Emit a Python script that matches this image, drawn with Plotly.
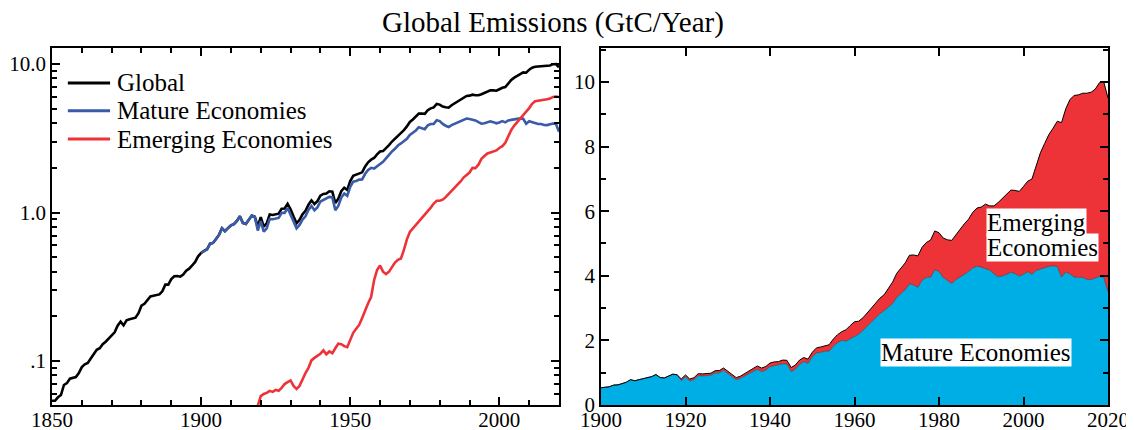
import plotly.graph_objects as go

# Years
years = list(range(1850, 2021))
years_emerging = list(range(1919, 2021))

# Global emissions (GtC/yr), 1850-2020
global_emissions = [
    0.054, 0.054, 0.057, 0.059, 0.069, 0.071, 0.076, 0.077, 0.078, 0.083,
    0.091, 0.095, 0.097, 0.104, 0.112, 0.119, 0.122, 0.130, 0.135, 0.142,
    0.147, 0.156, 0.173, 0.184, 0.174, 0.188, 0.191, 0.194, 0.196, 0.210,
    0.236, 0.243, 0.256, 0.272, 0.275, 0.277, 0.281, 0.295, 0.327, 0.327,
    0.356, 0.372, 0.374, 0.370, 0.383, 0.406, 0.419, 0.440, 0.465, 0.507,
    0.534, 0.552, 0.566, 0.617, 0.624, 0.663, 0.707, 0.784, 0.750, 0.785,
    0.819, 0.836, 0.879, 0.943, 0.850, 0.838, 0.901, 0.955, 0.936, 0.806,
    0.932, 0.803, 0.845, 0.970, 0.963, 0.975, 0.983, 1.062, 1.065, 1.145,
    1.053, 0.940, 0.847, 0.893, 0.973, 1.027, 1.130, 1.209, 1.142, 1.192,
    1.299, 1.334, 1.342, 1.391, 1.383, 1.160, 1.238, 1.392, 1.469, 1.419,
    1.630, 1.768, 1.796, 1.841, 1.865, 2.043, 2.178, 2.270, 2.330, 2.462,
    2.577, 2.594, 2.700, 2.848, 3.008, 3.145, 3.305, 3.411, 3.588, 3.800,
    4.076, 4.231, 4.399, 4.635, 4.644, 4.615, 4.883, 5.029, 5.105, 5.387,
    5.332, 5.168, 5.113, 5.094, 5.280, 5.439, 5.607, 5.752, 5.965, 6.097,
    6.127, 6.217, 6.164, 6.162, 6.266, 6.398, 6.542, 6.651, 6.643, 6.610,
    6.765, 6.927, 6.996, 7.416, 7.807, 8.093, 8.370, 8.566, 8.783, 8.740,
    9.167, 9.458, 9.580, 9.600, 9.650, 9.650, 9.680, 9.780, 9.980, 10.00,
    9.500,
]

# Emerging economies emissions (GtC/yr), 1919-2020
emerging_emissions = [
    0.050,
    0.058, 0.060, 0.061, 0.063, 0.062, 0.064, 0.063, 0.066, 0.070, 0.072,
    0.074, 0.068, 0.065, 0.068, 0.076, 0.083, 0.090, 0.101, 0.105, 0.108,
    0.112, 0.118, 0.111, 0.116, 0.113, 0.122, 0.131, 0.130, 0.126, 0.124,
    0.138, 0.155, 0.165, 0.175, 0.195, 0.220, 0.245, 0.270, 0.350, 0.410,
    0.440, 0.400, 0.385, 0.400, 0.430, 0.460, 0.480, 0.490, 0.560, 0.660,
    0.740, 0.780, 0.830, 0.880, 0.930, 0.970, 1.020, 1.080, 1.150, 1.200,
    1.200, 1.220, 1.270, 1.330, 1.400, 1.480, 1.550, 1.620, 1.720, 1.800,
    1.860, 2.000, 1.990, 2.100, 2.300, 2.400, 2.500, 2.540, 2.580, 2.620,
    2.720, 2.800, 2.950, 3.250, 3.600, 3.850, 4.080, 4.260, 4.500, 4.780,
    5.050, 5.400, 5.620, 5.650, 5.700, 5.760, 5.800, 5.850, 6.000, 6.050,
    6.000,
]

# Mature economies = global minus emerging (from 1900)
emerging_by_year = dict(zip(years_emerging, emerging_emissions))
years_mature = [y for y in years if y >= 1900]
mature_emissions = [round(g - emerging_by_year.get(y, 0.0), 3)
                    for y, g in zip(years, global_emissions) if y >= 1900]
emerging_full = [emerging_by_year.get(y, 0.0) for y in years_mature]
total_stack = [round(m + e, 3) for m, e in zip(mature_emissions, emerging_full)]

series_names = ["Global", "Mature Economies", "Emerging Economies"]

BLACK = "#000000"
BLUE = "#3a5ba8"
RED = "#ee3338"
CYAN = "#00aee6"
FONT = "Liberation Serif, Times New Roman, serif"
line_colors = [BLACK, BLUE, RED]

fig = go.Figure()

# Left panel: log lines
fig.add_trace(go.Scatter(x=years, y=global_emissions, mode="lines", name=series_names[0],
                         line=dict(color=BLACK, width=2.6), xaxis="x", yaxis="y"))
fig.add_trace(go.Scatter(x=years_mature, y=mature_emissions, mode="lines", name=series_names[1],
                         line=dict(color=BLUE, width=2.6), xaxis="x", yaxis="y"))
fig.add_trace(go.Scatter(x=years_emerging, y=emerging_emissions, mode="lines", name=series_names[2],
                         line=dict(color=RED, width=2.6), xaxis="x", yaxis="y"))

# Right panel: stacked areas
fig.add_trace(go.Scatter(x=years_mature, y=mature_emissions, mode="lines", fill="tozeroy",
                         fillcolor=CYAN, line=dict(color="#333333", width=0.6),
                         xaxis="x2", yaxis="y2"))
fig.add_trace(go.Scatter(x=years_mature, y=total_stack, mode="lines", fill="tonexty",
                         fillcolor=RED, line=dict(color=BLACK, width=1),
                         xaxis="x2", yaxis="y2"))

axis_common = dict(showline=True, linecolor=BLACK, linewidth=1.5, mirror="ticks",
                   ticks="inside", tickcolor=BLACK, tickwidth=1.5, ticklen=8,
                   showgrid=False, zeroline=False, automargin=False,
                   tickfont=dict(family=FONT, size=21, color=BLACK))

minor_log = [0.06, 0.07, 0.08, 0.09, 0.2, 0.3, 0.4, 0.5, 0.6, 0.7, 0.8, 0.9,
             2, 3, 4, 5, 6, 7, 8, 9]

# hand-placed legend in the top-left corner of the left panel
legend_rows = [0.902, 0.824, 0.745]
shapes = []
annotations = []
for name, color, yy in zip(series_names, line_colors, legend_rows):
    shapes.append(dict(type="line", xref="paper", yref="paper", x0=0.015, x1=0.055,
                       y0=yy, y1=yy, line=dict(color=color, width=3)))
    annotations.append(dict(x=0.0595, y=yy, xref="paper", yref="paper", text=name,
                            showarrow=False, xanchor="left", yanchor="middle",
                            font=dict(family=FONT, size=25, color=BLACK)))

label_font = dict(family=FONT, size=25, color=BLACK)
# "Economies" first so the "Emerging" box sits on top of it
annotations += [
    dict(x=1991.1, y=4.86, xref="x2", yref="y2", text="Economies", showarrow=False,
         xanchor="left", yanchor="middle", bgcolor="white", borderpad=0, font=label_font),
    dict(x=1991.1, y=5.66, xref="x2", yref="y2", text="Emerging", showarrow=False,
         xanchor="left", yanchor="middle", bgcolor="white", borderpad=0, font=label_font),
    dict(x=1966, y=1.63, xref="x2", yref="y2", text="Mature Economies", showarrow=False,
         xanchor="left", yanchor="middle", bgcolor="white", borderpad=0, font=label_font),
]

# the page puts the figure 8px in from the top-left, so size it to fill the window
fig.update_layout(
    width=1126, height=422,
    margin=dict(l=44, r=26, t=40, b=25, autoexpand=False),
    paper_bgcolor="white", plot_bgcolor="white",
    font=dict(family=FONT, color=BLACK),
    showlegend=False,
    title=dict(text="Global Emissions (GtC/Year)", x=0.484, xanchor="center",
               y=0.967, yanchor="middle", automargin=False,
               font=dict(family=FONT, size=29, color=BLACK)),
    xaxis=dict(domain=[0, 0.4801], range=[1850, 2020],
               tickvals=[1850, 1900, 1950, 2000], ticklabelstandoff=-5,
               minor=dict(ticks="inside", tick0=1850, dtick=10, ticklen=5,
                          tickcolor=BLACK, tickwidth=1.5),
               **axis_common),
    yaxis=dict(type="log", range=[-1.296, 1.108],
               tickvals=[0.1, 1, 10], ticktext=[".1", "1.0", "10.0"],
               minor=dict(ticks="inside", tickvals=minor_log, ticklen=5,
                          tickcolor=BLACK, tickwidth=1.5),
               **axis_common),
    xaxis2=dict(domain=[0.5199, 1], range=[1900, 2020], anchor="y2",
                tickvals=[1900, 1920, 1940, 1960, 1980, 2000, 2020],
                ticklabelstandoff=-5,
                **axis_common),
    yaxis2=dict(range=[0, 11.05], anchor="x2",
                tickvals=[0, 2, 4, 6, 8, 10],
                minor=dict(ticks="inside", tick0=0, dtick=1, ticklen=5,
                           tickcolor=BLACK, tickwidth=1.5),
                **axis_common),
    shapes=shapes,
    annotations=annotations,
)

fig.write_html("out.html")
